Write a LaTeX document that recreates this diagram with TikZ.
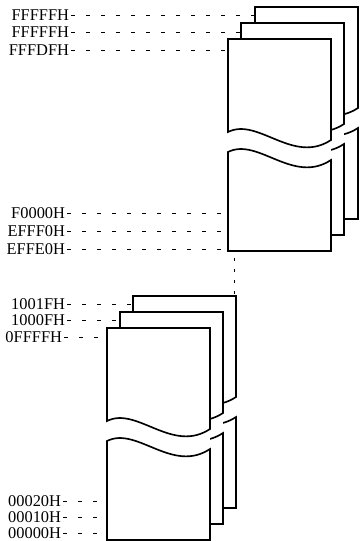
\documentclass[tikz,border=0pt]{standalone}
\usepackage{fontspec}
\setmainfont{Liberation Serif}
\usepackage{tikz}

\tikzset{
  % one memory page with a torn gap in its middle
  page/.pic={
    \fill[white] (0,0) rectangle (103,212);
    \draw (103,101) .. controls (65,126) and (30,78) .. (0,93)
      -- (0,0) -- (103,0) -- cycle;
    \draw (0,113) .. controls (30,98) and (65,146) .. (103,121)
      -- (103,212) -- (0,212) -- cycle;
  },
  addr/.style={anchor=east, inner sep=1pt, font=\fontsize{14}{16}\selectfont},
  lead/.style={line width=0.8pt, dash pattern=on 0.13cm off 0.32cm},
}

\begin{document}
\begin{tikzpicture}[x=0.03cm, y=-0.03cm, line width=1.4pt]
  \useasboundingbox (0,0) rectangle (360,541);

  % Upper block of pages
  \foreach \dx/\dy in {27/-32, 13/-16, 0/0}
    \pic at (228+\dx, 39+\dy) {page};

  % Lower block of pages
  \foreach \dx/\dy in {26/-32, 13/-16, 0/0}
    \pic at (107+\dx, 328+\dy) {page};

  % Upper addresses
  \node[addr] (hiA) at (71, 15) {FFFFFH};
  \node[addr] (hiB) at (71, 32) {FFFFFH};
  \node[addr] (hiC) at (71, 50) {FFFDFH};
  \coordinate (hiAend) at (255, 15);
  \coordinate (hiBend) at (241, 32);
  \coordinate (hiCend) at (228, 50);
  \draw[lead] (hiA) -- (hiAend);
  \draw[lead] (hiB) -- (hiBend);
  \draw[lead] (hiC) -- (hiCend);

  \node[addr] (midA) at (67, 213) {F0000H};
  \node[addr] (midB) at (67, 231) {EFFF0H};
  \node[addr] (midC) at (67, 249) {EFFE0H};
  \coordinate (midAend) at (228, 213);
  \coordinate (midBend) at (228, 231);
  \coordinate (midCend) at (228, 249);
  \draw[lead] (midA) -- (midAend);
  \draw[lead] (midB) -- (midBend);
  \draw[lead] (midC) -- (midCend);

  % Lower addresses
  \node[addr] (loA) at (67, 304) {1001FH};
  \node[addr] (loB) at (67, 320) {1000FH};
  \node[addr] (loC) at (64, 337) {0FFFFH};
  \coordinate (loAend) at (133, 304);
  \coordinate (loBend) at (120, 320);
  \coordinate (loCend) at (107, 337);
  \draw[lead] (loA) -- (loAend);
  \draw[lead] (loB) -- (loBend);
  \draw[lead] (loC) -- (loCend);

  \node[addr] (btA) at (63, 501) {00020H};
  \node[addr] (btB) at (63, 517) {00010H};
  \node[addr] (btC) at (63, 533) {00000H};
  \coordinate (btAend) at (107, 501);
  \coordinate (btBend) at (107, 517);
  \coordinate (btCend) at (107, 533);
  \draw[lead] (btA) -- (btAend);
  \draw[lead] (btB) -- (btBend);
  \draw[lead] (btC) -- (btCend);

  % dotted link between the two blocks
  \coordinate (linkTop) at (234, 258);
  \coordinate (linkBot) at (234, 294);
  \draw[line width=0.8pt, dash pattern=on 0.09cm off 0.24cm] (linkTop) -- (linkBot);
\end{tikzpicture}
\end{document}
